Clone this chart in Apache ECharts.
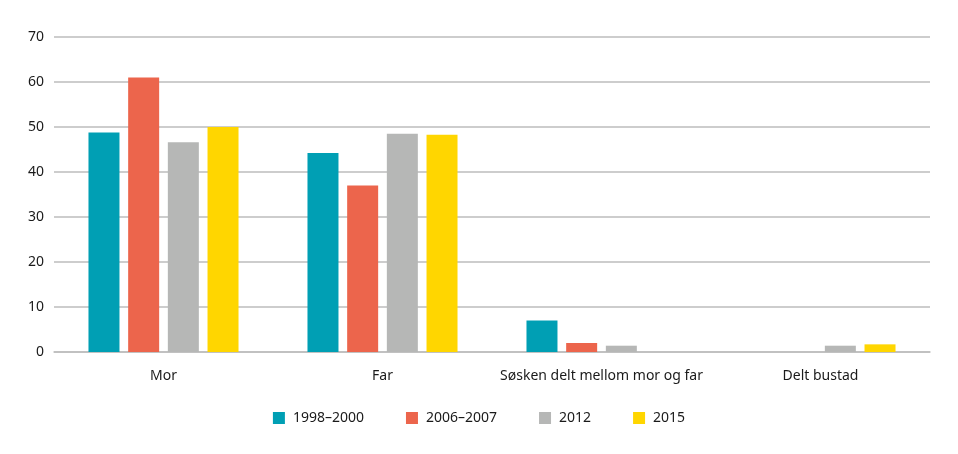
<!DOCTYPE html>
<html><head><meta charset="utf-8">
<script src="https://cdn.jsdelivr.net/npm/echarts@6/dist/echarts.min.js"></script>
<style>html,body{margin:0;padding:0;background:#fff}#c{width:958px;height:454px}</style>
</head><body><div id="c"></div>
<script>
var categories = ['Mor', 'Far', 'Søsken delt mellom mor og far', 'Delt bustad'];
var seriesNames = ['1998–2000', '2006–2007', '2012', '2015'];
var s1998 = [48.8, 44.2, 7.0, 0];
var s2006 = [61.0, 37.0, 2.0, 0];
var s2012 = [46.6, 48.5, 1.4, 1.4];
var s2015 = [50.0, 48.3, 0, 1.7];
var colors = ['#009fb4', '#ec654c', '#b6b7b6', '#ffd600'];
var values = [s1998, s2006, s2012, s2015];
var font = 'Noto Sans';
var chart = echarts.init(document.getElementById('c'));
chart.setOption({
  animation: false,
  grid: {left: 54, right: 28, top: 37, bottom: 102, containLabel: false},
  legend: {
    bottom: 24, left: 'center', itemWidth: 12, itemHeight: 12, itemGap: 42,
    icon: 'rect',
    textStyle: {fontFamily: font, fontSize: 14, color: '#1a1a1a', padding: [0,0,0,3]},
    data: seriesNames
  },
  xAxis: {
    type: 'category', data: categories,
    axisLine: {lineStyle: {color: '#bdbdbd', width: 1.5}},
    axisTick: {show: false},
    axisLabel: {interval: 0, fontFamily: font, fontSize: 14, color: '#1a1a1a', margin: 17}
  },
  yAxis: {
    type: 'value', min: 0, max: 70, interval: 10,
    axisLine: {show: false}, axisTick: {show: false},
    splitLine: {lineStyle: {color: '#bdbdbd', width: 1.5}},
    axisLabel: {fontFamily: font, fontSize: 14, color: '#1a1a1a', margin: 10}
  },
  series: seriesNames.map(function(n, i){
    return {name: n, type: 'bar', data: values[i], barWidth: 31, barGap: '28%',
      itemStyle: {color: colors[i]}};
  })
});
</script></body></html>
